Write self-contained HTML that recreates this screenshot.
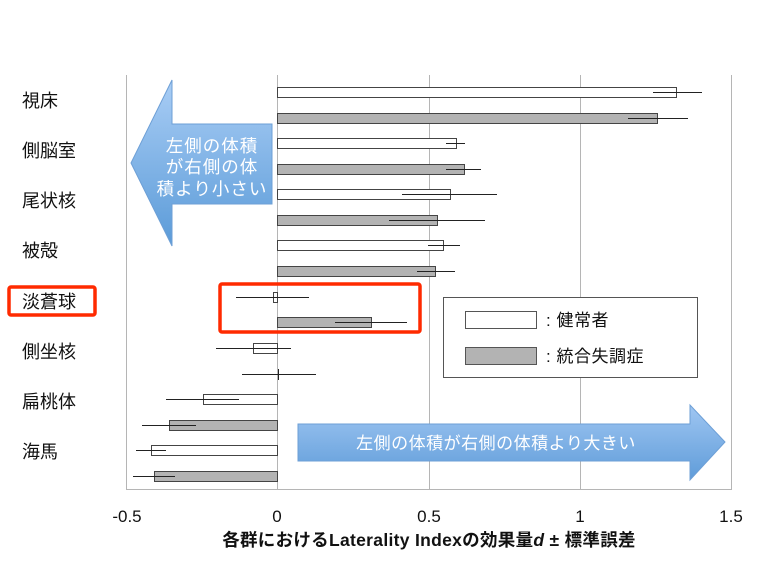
<!DOCTYPE html>
<html><head><meta charset="utf-8"><style>
html,body{margin:0;padding:0;background:#fff;}
svg{display:block;font-family:"Liberation Sans","Noto Sans CJK JP",sans-serif;}
</style></head><body>
<svg width="757" height="567" viewBox="0 0 757 567" xmlns="http://www.w3.org/2000/svg">
<defs>
<linearGradient id="gl" x1="0" y1="0" x2="0" y2="1"><stop offset="0" stop-color="#a9cdf5"/><stop offset="1" stop-color="#5b9bd8"/></linearGradient>
<linearGradient id="gr" x1="0" y1="0" x2="0" y2="1"><stop offset="0" stop-color="#9fc6f2"/><stop offset="1" stop-color="#5f9cd9"/></linearGradient>
</defs>
<g stroke="#b5b5b5" stroke-width="1">
<line x1="126.5" y1="75" x2="126.5" y2="489"/>
<line x1="277.5" y1="75" x2="277.5" y2="489"/>
<line x1="429.5" y1="75" x2="429.5" y2="489"/>
<line x1="580.5" y1="75" x2="580.5" y2="489"/>
<line x1="731.5" y1="75" x2="731.5" y2="489"/>
<line x1="126" y1="489.5" x2="732" y2="489.5"/>
</g>
<path d="M172,80 L172,124 L272,124 L272,204 L172,204 L172,246 L131,163 Z" fill="url(#gl)" stroke="#6d9fd6" stroke-width="1"/>
<g fill="#fff" font-size="17.5" text-anchor="middle" letter-spacing="1">
<text x="212" y="152">左側の体積</text>
<text x="212" y="173">が右側の体</text>
<text x="212" y="195">積より小さい</text>
</g>
<g stroke="#444" stroke-width="1">
<rect x="277.5" y="87.5" width="399" height="10" fill="#fff"/>
<rect x="277.5" y="113.5" width="380" height="10" fill="#b3b3b3"/>
<rect x="277.5" y="138.5" width="179" height="10" fill="#fff"/>
<rect x="277.5" y="164.5" width="187" height="10" fill="#b3b3b3"/>
<rect x="277.5" y="189.5" width="173" height="10" fill="#fff"/>
<rect x="277.5" y="215.5" width="160" height="10" fill="#b3b3b3"/>
<rect x="277.5" y="240.5" width="166" height="10" fill="#fff"/>
<rect x="277.5" y="266.5" width="158" height="10" fill="#b3b3b3"/>
<rect x="273.5" y="292.5" width="4" height="10" fill="#fff"/>
<rect x="277.5" y="317.5" width="94" height="10" fill="#b3b3b3"/>
<rect x="253.5" y="343.5" width="24" height="10" fill="#fff"/>
<rect x="203.5" y="394.5" width="74" height="10" fill="#fff"/>
<rect x="169.5" y="420.5" width="108" height="10" fill="#b3b3b3"/>
<rect x="151.5" y="445.5" width="126" height="10" fill="#fff"/>
<rect x="154.5" y="471.5" width="123" height="10" fill="#b3b3b3"/>
</g>
<g stroke="#222" stroke-width="1">
<line x1="653" y1="92.5" x2="702" y2="92.5"/>
<line x1="628" y1="118.5" x2="688" y2="118.5"/>
<line x1="446" y1="143.5" x2="465" y2="143.5"/>
<line x1="446" y1="169.5" x2="481" y2="169.5"/>
<line x1="402" y1="194.5" x2="497" y2="194.5"/>
<line x1="389" y1="220.5" x2="485" y2="220.5"/>
<line x1="428" y1="245.5" x2="460" y2="245.5"/>
<line x1="417" y1="271.5" x2="455" y2="271.5"/>
<line x1="236" y1="297.5" x2="309" y2="297.5"/>
<line x1="335" y1="322.5" x2="407" y2="322.5"/>
<line x1="216" y1="348.5" x2="291" y2="348.5"/>
<line x1="242" y1="374.5" x2="316" y2="374.5"/>
<line x1="278.5" y1="369" x2="278.5" y2="380"/>
<line x1="166" y1="399.5" x2="239" y2="399.5"/>
<line x1="142" y1="425.5" x2="196" y2="425.5"/>
<line x1="136" y1="450.5" x2="166" y2="450.5"/>
<line x1="133" y1="476.5" x2="175" y2="476.5"/>
</g>
<rect x="220" y="284" width="200" height="48" fill="none" stroke="#ff2a00" stroke-width="3.5" rx="2"/>
<rect x="9" y="287" width="86" height="28" fill="none" stroke="#ff2a00" stroke-width="3.5" rx="2"/>
<rect x="443.5" y="297.5" width="254" height="80" fill="#fff" stroke="#555" stroke-width="1"/>
<rect x="465.5" y="311.5" width="71" height="17" fill="#fff" stroke="#555"/>
<rect x="465.5" y="347.5" width="71" height="17" fill="#b3b3b3" stroke="#555"/>
<g font-size="17" fill="#111" letter-spacing="0.5">
<text x="546" y="326">: 健常者</text>
<text x="546" y="362">: 統合失調症</text>
</g>
<path d="M298,424 L690,424 L690,405 L725,442 L690,480 L690,461 L298,461 Z" fill="url(#gr)" stroke="#6d9fd6" stroke-width="1"/>
<text x="496" y="449" fill="#fff" font-size="17" text-anchor="middle" letter-spacing="0.5">左側の体積が右側の体積より大きい</text>
<g font-size="18" fill="#111">
<text x="22" y="107">視床</text>
<text x="22" y="157">側脳室</text>
<text x="22" y="207">尾状核</text>
<text x="22" y="257">被殻</text>
<text x="22" y="308">淡蒼球</text>
<text x="22" y="358">側坐核</text>
<text x="22" y="408">扁桃体</text>
<text x="22" y="458">海馬</text>
</g>
<g font-size="17" fill="#111" text-anchor="middle">
<text x="127" y="522">-0.5</text>
<text x="277" y="522">0</text>
<text x="429" y="522">0.5</text>
<text x="580" y="522">1</text>
<text x="731" y="522">1.5</text>
</g>
<text x="429" y="546" font-size="17.5" font-weight="bold" fill="#111" text-anchor="middle" letter-spacing="0.3">各群におけるLaterality Indexの効果量<tspan font-style="italic">d</tspan> ± 標準誤差</text>
</svg>
</body></html>
